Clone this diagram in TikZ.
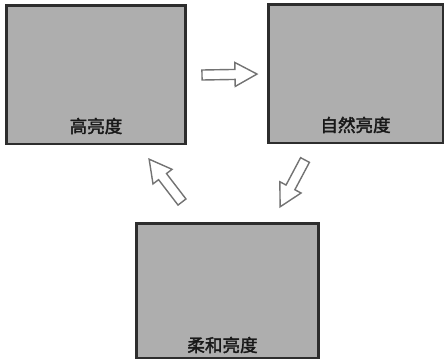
\documentclass[tikz,border=0pt]{standalone}
\usepackage{fontspec}
\newfontfamily\cjk{Noto Sans CJK SC}[AutoFakeBold=2]
\usepackage{xcolor}
\usetikzlibrary{calc,
	positioning}

\definecolor{screengray}{RGB}{174,174,174}
\definecolor{framegray}{RGB}{45,45,45}
\definecolor{arrowgray}{RGB}{115,115,115}

\tikzset{
	screen/.style={draw=framegray, line width=1.7pt, fill=screengray, inner sep=0pt},
	caption/.style={inner sep=0pt, font=\cjk\bfseries\fontsize{10}{12}\selectfont, text=black!90},
	hollow/.style={draw=arrowgray, line width=0.8pt, fill=white, line join=miter}
}

\begin{document}
\begin{tikzpicture}[x=0.02cm, y=-0.02cm]
	\useasboundingbox (0,0) rectangle (445,360);
	% Settings
	\pgfmathsetmacro{\shaft}{5}
	\pgfmathsetmacro{\headw}{12}
	\pgfmathsetmacro{\headl}{22}
	% /Settings
	\node[screen, minimum width=3.6cm, minimum height=2.78cm] (high) at (96,74.5) {};
	\node[screen, minimum width=3.5cm, minimum height=2.78cm] (natural) at (355.5,73.5) {};
	\node[screen, minimum width=3.66cm, minimum height=2.7cm] (soft) at (227.5,290.5) {};
	\node[caption, above=0.22cm of high.south] (highlabel) {高亮度};
	\node[caption, above=0.22cm of natural.south] (naturallabel) {自然亮度};
	\node[caption, above=0.12cm of soft.south, xshift=-0.1cm] (softlabel) {柔和亮度};
	\foreach \tx/\ty/\ang/\len in {202/75/1/55, 182/202/127.5/54, 305/160/242/53} {
		\begin{scope}[shift={(\tx,\ty)}, rotate=\ang]
			\draw[hollow] (0,-\shaft) -- ({\len-\headl},-\shaft) -- ({\len-\headl},-\headw) -- (\len,0)
				-- ({\len-\headl},\headw) -- ({\len-\headl},\shaft) -- (0,\shaft) -- cycle;
		\end{scope}
	}
\end{tikzpicture}
\end{document}
